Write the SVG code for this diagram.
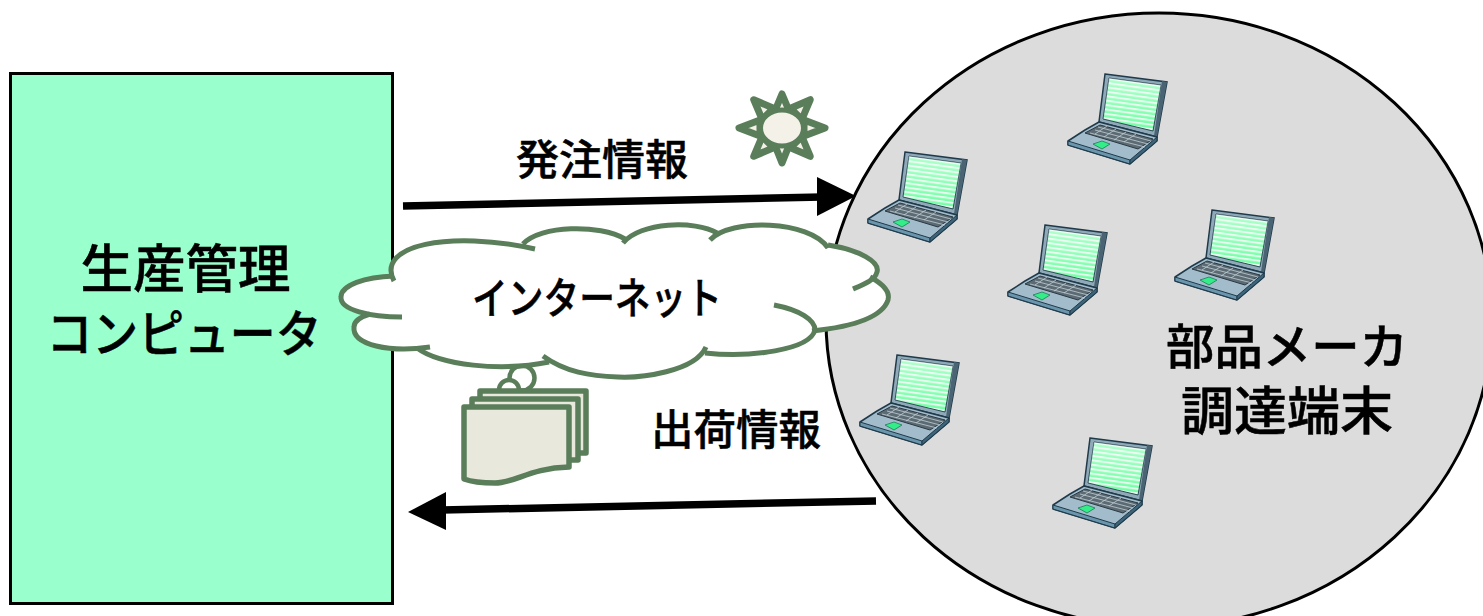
<svg xmlns="http://www.w3.org/2000/svg" width="1483" height="616" viewBox="0 0 1483 616">
<style>
.t{font-family:"Noto Sans CJK JP","Liberation Sans",sans-serif;font-weight:500;fill:#000;stroke:#000;stroke-width:.5}
.c{fill:none;stroke:#5a7d5a;stroke-width:5;stroke-linecap:butt}
.g{stroke:#5a7d5a;stroke-width:7;stroke-linejoin:round;fill:#f3f1e8}
.d{fill:#e8e8dc;stroke:#5a7d5a;stroke-width:5.5;stroke-linejoin:round}
.a{stroke:#000;stroke-width:7.5;fill:none}
</style>
<defs>
<linearGradient id="st" x1="0" y1="0" x2="0" y2="1"><stop offset="0" stop-color="#ffffff" stop-opacity=".45"/><stop offset="1" stop-color="#ffffff" stop-opacity="0"/></linearGradient>
<pattern id="sl" width="6" height="4.4" patternUnits="userSpaceOnUse" patternTransform="rotate(8)"><rect width="6" height="4.4" fill="#6dffa2"/><rect width="6" height="2" fill="#e2ffec"/></pattern>
<symbol id="laptop" overflow="visible">
<path d="M45 12L107 20L97 75L39 60Z" fill="#8fa9b8" stroke="#1f3a4a" stroke-width="1.5"/>
<path d="M49 16L101 23L93 69L43 57Z" fill="url(#sl)" stroke="#2a4555" stroke-width="1"/>
<path d="M49 16L101 23L93 69L43 57Z" fill="url(#st)"/>
<path d="M102 19L107 20L97 75L94 74Z" fill="#4a6474"/>
<path d="M8 79L25 68L39 60L97 75V79L70 102L8 83Z" fill="#a3bccb" stroke="#1f3a4a" stroke-width="1.5" stroke-linejoin="round"/>
<path d="M8 79L70 98V102L8 83Z" fill="#6a96ad" stroke="#1f3a4a" stroke-width="1"/>
<path d="M70 98L97 75V79L70 102Z" fill="#3d6478" stroke="#1f3a4a" stroke-width="1"/>
<path d="M25 71L40 63L93 77L78 87Z" fill="#5c6b73" stroke="#2a3a44" stroke-width="1"/>
<path d="M30 71L85 85M35 68L88 82M38 65L91 79M35 72L47 64M44 75L56 67M54 78L66 70M64 80L76 72" stroke="#c2ced5" stroke-width=".8" fill="none"/>
<path d="M33 82L42 79L50 82L42 87Z" fill="#33ee88" stroke="#1f7a55" stroke-width=".8"/>
</symbol>
</defs>

<g id="main-computer">
<rect x="10.5" y="73.5" width="382" height="530" fill="#99ffcc" stroke="#000" stroke-width="3"/>
<text class="t" x="185.500" y="288" font-size="52" text-anchor="middle" textLength="210" lengthAdjust="spacingAndGlyphs">生産管理</text>
<text class="t" x="184" y="352" font-size="50" text-anchor="middle" textLength="275" lengthAdjust="spacingAndGlyphs">コンピュータ</text>
</g>

<g id="supplier-terminals">
<ellipse cx="1159" cy="320" rx="333" ry="307" fill="#dcdcdc" stroke="#000" stroke-width="3"/>
<use href="#laptop" x="860" y="140"/>
<use href="#laptop" x="1060" y="62"/>
<use href="#laptop" x="1000" y="213"/>
<use href="#laptop" x="1167" y="198"/>
<use href="#laptop" x="852" y="343"/>
<use href="#laptop" x="1045" y="426"/>
<text class="t" x="1287" y="364" font-size="48" text-anchor="middle" textLength="242" lengthAdjust="spacingAndGlyphs">部品メーカ</text>
<text class="t" x="1287" y="430" font-size="52" text-anchor="middle" textLength="212" lengthAdjust="spacingAndGlyphs">調達端末</text>
</g>

<g id="connectors">
<path class="a" d="M403 206L822 197"/>
<path d="M856 196L817 177V216Z" fill="#000"/>
<path class="a" d="M876 501L442 510"/>
<path d="M408 512L446 492V530Z" fill="#000"/>
</g>
<text class="t" x="602" y="175" font-size="42" text-anchor="middle" textLength="172" lengthAdjust="spacingAndGlyphs">発注情報</text>
<text class="t" x="736" y="445" font-size="42" text-anchor="middle" textLength="170" lengthAdjust="spacingAndGlyphs">出荷情報</text>

<g id="sun">
<path class="g" d="M774 113L782 94L790 113Z"/>
<path class="g" transform="rotate(-45 782 128)" d="M774 108L782 88L790 108Z"/>
<path class="g" transform="rotate(45 782 128)" d="M774 108L782 88L790 108Z"/>
<path class="g" d="M760 120L739 128L760 136Z"/>
<path class="g" d="M804 120L825 128L804 136Z"/>
<path class="g" d="M774 143L782 163L790 143Z"/>
<path class="g" transform="rotate(45 782 128)" d="M774 148L782 168L790 148Z"/>
<path class="g" transform="rotate(-45 782 128)" d="M774 148L782 168L790 148Z"/>
<ellipse cx="782" cy="128" rx="21.500" ry="18" fill="#f3f1e8" stroke="#5a7d5a" stroke-width="5"/>
</g>

<g id="documents">
<circle cx="522" cy="378" r="12.500" fill="#fff" stroke="#5a7d5a" stroke-width="4.500"/>
<circle cx="509" cy="390" r="10" fill="#fff" stroke="#5a7d5a" stroke-width="4.500"/>
<path class="d" d="M480 391H586V453H480Z"/>
<path class="d" d="M472 399H578V460H472Z"/>
<path class="d" d="M464 407H569V467C530 468 515 483 495 483C480 483 472 482 464 479Z"/>
</g>

<g id="internet">
<path d="M394 278C380 245 450 232 523 244C540 225 600 224 623 241C640 222 695 220 712 238C730 218 810 220 828 247C860 250 880 262 877 272C876 276 873 277 872 278C885 285 890 293 888 300C882 318 850 327 815 331C810 350 750 358 705 352C695 372 640 378 618 377C590 376 565 372 545 361C500 372 440 365 417 348C390 353 352 345 354 327C354 321 360 317 366 315C345 312 340 305 341 297C341 285 365 277 394 278Z" fill="#fff"/>
<path class="c" d="M394 281C375 245 450 230 535 249"/>
<path class="c" d="M523 244C540 225 600 224 625 239"/>
<path class="c" d="M623 243C640 222 695 220 717 233"/>
<path class="c" d="M710 240C730 218 810 220 828 248"/>
<path class="c" d="M828 245C860 250 880 262 877 272C875 280 865 284 853 289"/>
<path class="c" d="M870 277C885 285 890 293 888 300C882 318 850 327 812 331"/>
<path class="c" d="M774 305C800 310 815 320 815 330C810 350 750 358 705 353"/>
<path class="c" d="M706 347C695 372 640 378 618 377C590 376 565 372 543 356"/>
<path class="c" d="M549 362C500 372 440 365 417 348"/>
<path class="c" d="M430 347C390 353 352 345 354 327C354 321 360 317 370 314"/>
<path class="c" d="M402 317C370 317 340 310 341 297C341 285 365 277 394 276"/>
<text class="t" x="597" y="314" font-size="43" text-anchor="middle" textLength="250" lengthAdjust="spacingAndGlyphs">インターネット</text>
</g>
</svg>
